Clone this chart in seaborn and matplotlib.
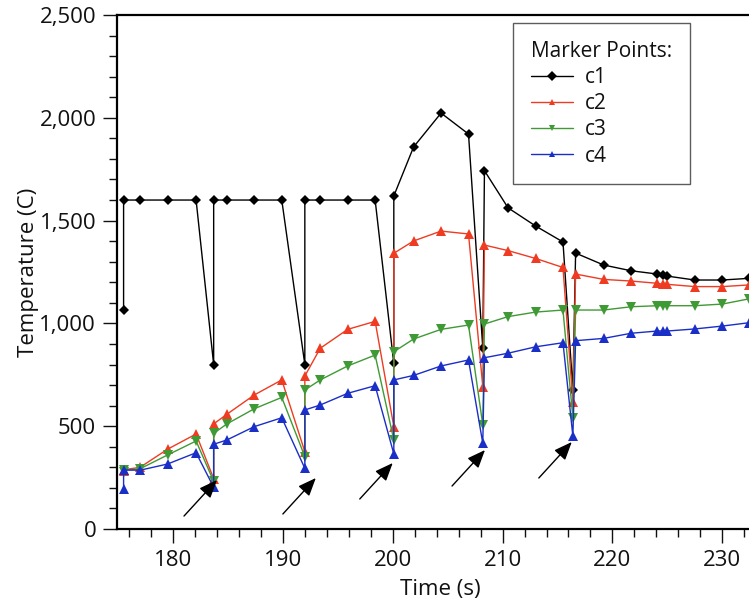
import matplotlib
matplotlib.use('Agg')
import pandas as pd
import matplotlib.pyplot as plt
import seaborn as sns
from matplotlib.ticker import MultipleLocator, FuncFormatter

# sample times (s); repeated times are the drop / recovery pairs
time_s = [175.5, 175.5, 177.0, 179.5, 182.1,
          183.7, 183.7, 184.9, 187.4, 189.9,
          192.0, 192.0, 193.4, 195.9, 198.4,
          200.1, 200.1, 201.9, 204.4, 206.9,
          208.2, 208.35, 210.5, 213.0, 215.5,
          216.4, 216.65, 219.2, 221.7, 224.1, 224.6, 225.0, 227.5, 230.0, 232.4]

c1 = [1065, 1600, 1600, 1600, 1600,
      800, 1600, 1600, 1600, 1600,
      800, 1600, 1600, 1600, 1600,
      805, 1620, 1858, 2023, 1921,
      880, 1743, 1562, 1474, 1396,
      676, 1342, 1284, 1256, 1240, 1234, 1230, 1211, 1211, 1219]
c2 = [280, 288, 300, 388, 462,
      245, 511, 558, 652, 725,
      376, 744, 879, 971, 1010,
      498, 1341, 1401, 1449, 1435,
      692, 1381, 1354, 1316, 1272,
      620, 1240, 1214, 1206, 1195, 1190, 1190, 1179, 1179, 1187]
c3 = [275, 285, 293, 360, 428,
      232, 465, 511, 585, 640,
      352, 676, 725, 793, 846,
      433, 862, 924, 971, 992,
      506, 997, 1033, 1055, 1065,
      540, 1065, 1065, 1081, 1086, 1086, 1086, 1086, 1094, 1119]
c4 = [193, 287, 286, 316, 371,
      203, 412, 433, 498, 541,
      295, 579, 603, 660, 697,
      365, 725, 747, 793, 822,
      417, 833, 855, 886, 906,
      452, 916, 927, 952, 963, 963, 963, 973, 987, 1003]

sensors = ['c1', 'c2', 'c3', 'c4']
colors = {'c1': '#000000', 'c2': '#ee3b22', 'c3': '#3f9a35', 'c4': '#1a2ec8'}
markers = {'c1': 'D', 'c2': '^', 'c3': 'v', 'c4': '^'}

# arrows pointing at the cold-drop samples (head time, head temp)
arrow_heads = [(184.0, 238), (193.0, 248), (200.0, 321), (208.4, 384), (216.3, 423)]

df = pd.concat([pd.DataFrame({'Time': time_s, 'Temperature': v, 'sensor': s})
                for s, v in zip(sensors, [c1, c2, c3, c4])], ignore_index=True)

sns.set_style('ticks')
plt.rcParams['font.family'] = ['Open Sans', 'DejaVu Sans']
plt.rcParams['text.color'] = '#111111'
plt.rcParams['xtick.color'] = '#111111'
plt.rcParams['ytick.color'] = '#111111'
plt.rcParams['axes.labelcolor'] = '#111111'

fig = plt.figure(figsize=(7.49, 6.02), dpi=100)
ax = fig.add_axes([117 / 749, 73 / 602, 647 / 749, 514 / 602])

sns.lineplot(data=df, x='Time', y='Temperature', hue='sensor', style='sensor',
             palette=colors, markers=markers, dashes=False, estimator=None,
             sort=False, linewidth=1.0, markersize=6.5, markeredgewidth=0, ax=ax)
ax.lines[0].set_markersize(5)

for tx, ty in arrow_heads:
    ax.annotate('', xy=(tx, ty), xytext=(tx - 3.0, ty - 175),
                arrowprops=dict(arrowstyle='-|>,head_length=1.1,head_width=0.45',
                                color='black', lw=1.0, shrinkA=0, shrinkB=0))

ax.set_xlim(174.9, 233.8)
ax.set_ylim(0, 2500)
ax.xaxis.set_major_locator(MultipleLocator(10))
ax.xaxis.set_minor_locator(MultipleLocator(2))
ax.yaxis.set_major_locator(MultipleLocator(500))
ax.yaxis.set_minor_locator(MultipleLocator(100))
ax.yaxis.set_major_formatter(FuncFormatter(lambda v, p: f'{int(v):,}'))
ax.tick_params(which='major', length=10, width=1, labelsize=16, direction='out', pad=5)
ax.tick_params(which='minor', length=5.5, width=1, direction='out')
for sp in ax.spines.values():
    sp.set_linewidth(1.6)
    sp.set_color('black')

ax.set_xlabel('Time (s)', fontsize=16, labelpad=6)
ax.set_ylabel('Temperature (C)', fontsize=16, labelpad=0)

leg = ax.legend(title='Marker Points:', loc='upper right',
                bbox_to_anchor=(690 / 749, 1 - 23 / 602), bbox_transform=fig.transFigure,
                borderaxespad=0, fontsize=15, title_fontsize=15, alignment='left',
                frameon=True, fancybox=False, edgecolor='#333333',
                handlelength=2.0, handletextpad=0.6, labelspacing=0.25, borderpad=0.85)
leg.get_frame().set_linewidth(1.0)
for h in leg.legend_handles:
    h.set_markersize(5)

fig.savefig('out.png', dpi=100)
